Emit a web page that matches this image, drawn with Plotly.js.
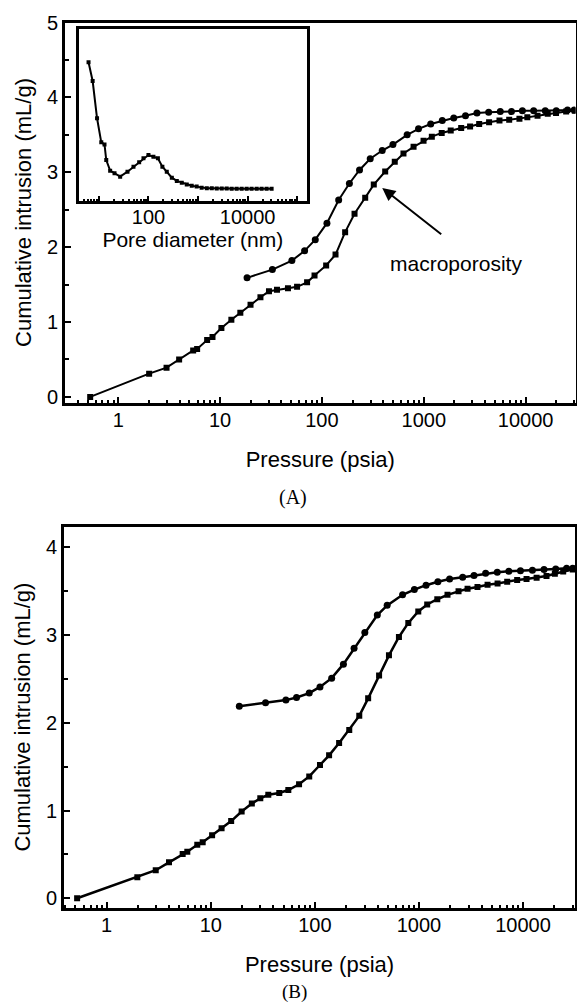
<!DOCTYPE html>
<html>
<head>
<meta charset="utf-8">
<script src="https://cdn.plot.ly/plotly-3.0.1.min.js"></script>
<style>html,body{margin:0;padding:0;background:#fff;}#chart{width:577px;height:1006px;}</style>
</head>
<body>
<div id="chart"></div>
<script>
// ---------- Panel A: cumulative intrusion vs pressure ----------
const aSqP = [0.53, 2.01, 2.98, 3.96, 5.44, 5.95, 7.46, 8.42, 10.3, 12.9, 15.8, 19.9, 24.9, 30.2, 36.2, 46.4, 57, 71.5, 84.6, 110, 136, 169, 209, 266, 323, 418, 519, 632, 794, 995, 1200, 1500, 1840, 2330, 2850, 3500, 4380, 5540, 6900, 8700, 10400, 13100, 16500, 19900, 25000, 30400];
const aSqV = [0.00, 0.31, 0.39, 0.50, 0.62, 0.64, 0.76, 0.80, 0.92, 1.03, 1.125, 1.23, 1.33, 1.41, 1.43, 1.45, 1.47, 1.53, 1.62, 1.756, 1.90, 2.20, 2.445, 2.66, 2.835, 3.01, 3.14, 3.25, 3.34, 3.42, 3.475, 3.525, 3.556, 3.59, 3.61, 3.645, 3.667, 3.69, 3.70, 3.716, 3.733, 3.756, 3.78, 3.79, 3.81, 3.823];
const aCiP = [18.4, 32.6, 50.7, 67.6, 86, 112, 146, 186, 234, 298, 391, 498, 687, 888, 1170, 1520, 1970, 2570, 3330, 4340, 5640, 7260, 9300, 12000, 15600, 20000, 25800, 30000];
const aCiV = [1.59, 1.70, 1.82, 1.95, 2.10, 2.32, 2.63, 2.85, 3.03, 3.18, 3.29, 3.37, 3.50, 3.58, 3.645, 3.69, 3.725, 3.756, 3.79, 3.80, 3.81, 3.81, 3.82, 3.823, 3.823, 3.823, 3.83, 3.83];

// ---------- Inset: pore size distribution ----------
const inD = [6.2, 7.5, 9.2, 11.2, 13, 14.1, 16.9, 20.7, 26.9, 37.8, 49.9, 65, 79.4, 100, 126, 155, 191, 234, 296, 373, 470, 592, 745, 938, 1180, 1500, 1890, 2380, 3000, 3780, 4760, 6000, 7570, 9550, 12000, 15200, 19100, 24100, 30400];
const inV = [0.806, 0.697, 0.48, 0.34, 0.328, 0.237, 0.175, 0.16, 0.14, 0.169, 0.198, 0.224, 0.247, 0.266, 0.256, 0.247, 0.198, 0.169, 0.134, 0.115, 0.105, 0.095, 0.087, 0.082, 0.076, 0.072, 0.072, 0.071, 0.071, 0.071, 0.07, 0.07, 0.07, 0.07, 0.07, 0.07, 0.07, 0.07, 0.07];

// ---------- Panel B ----------
const bSqP = [0.52, 1.97, 2.96, 3.97, 5.37, 5.95, 7.42, 8.36, 10.3, 12.7, 15.7, 19.8, 24.8, 29.9, 35.7, 45.5, 55.6, 70.5, 88.3, 112, 137, 171, 214, 267, 325, 414, 515, 642, 790, 985, 1200, 1500, 1880, 2400, 2930, 3650, 4560, 5690, 7040, 8780, 10800, 13500, 16800, 20200, 24300, 30000];
const bSqV = [0.00, 0.24, 0.32, 0.41, 0.505, 0.53, 0.61, 0.64, 0.72, 0.80, 0.88, 0.99, 1.08, 1.14, 1.18, 1.20, 1.235, 1.30, 1.39, 1.52, 1.63, 1.77, 1.92, 2.08, 2.28, 2.54, 2.77, 2.98, 3.14, 3.27, 3.35, 3.41, 3.46, 3.50, 3.53, 3.55, 3.575, 3.59, 3.61, 3.63, 3.64, 3.655, 3.675, 3.70, 3.725, 3.75];
const bCiP = [18.8, 33.6, 52.7, 66.7, 88.3, 112, 145, 188, 238, 302, 398, 495, 696, 903, 1170, 1520, 1970, 2630, 3380, 4370, 5650, 7300, 9440, 12300, 15900, 20600, 26200, 30000];
const bCiV = [2.19, 2.23, 2.26, 2.29, 2.34, 2.41, 2.51, 2.67, 2.85, 3.03, 3.23, 3.34, 3.46, 3.52, 3.57, 3.61, 3.64, 3.66, 3.68, 3.705, 3.717, 3.73, 3.735, 3.74, 3.75, 3.755, 3.763, 3.763];

// ---------- Tick labels ----------
const pTickVals = [1, 10, 100, 1000, 10000];
const pTickText = ['1', '10', '100', '1000', '10000'];
const inTickVals = [10, 100, 1000, 10000, 100000];
const inTickText = ['', '100', '', '10000', ''];
const aYTicks = [0, 1, 2, 3, 4, 5];
const bYTicks = [0, 1, 2, 3, 4];

function logMinors(lo, hi) {
  const out = [];
  for (let e = lo; e <= hi; e++) for (let m = 2; m <= 9; m++) out.push(m * Math.pow(10, e));
  return out;
}

const FONT = 'Liberation Sans, Arial, Helvetica, sans-serif';
const SERIF = 'Liberation Serif, Times New Roman, serif';
const W = 577, H = 1006;
const px = v => v / W;
const py = v => 1 - v / H;

const lineStyle = {color: '#000', width: 2};

const traces = [
  {x: aSqP, y: aSqV, xaxis: 'x', yaxis: 'y', mode: 'lines+markers', line: lineStyle,
   marker: {symbol: 'square', size: 6, color: '#000'}, showlegend: false},
  {x: aCiP, y: aCiV, xaxis: 'x', yaxis: 'y', mode: 'lines+markers', line: lineStyle,
   marker: {symbol: 'circle', size: 7, color: '#000'}, showlegend: false},
  {x: inD, y: inV, xaxis: 'x3', yaxis: 'y3', mode: 'lines+markers', line: {color: '#000', width: 2},
   marker: {symbol: 'square', size: 4, color: '#000'}, showlegend: false},
  {x: bSqP, y: bSqV, xaxis: 'x2', yaxis: 'y2', mode: 'lines+markers', line: {color: '#000', width: 2.5},
   marker: {symbol: 'square', size: 6, color: '#000'}, showlegend: false},
  {x: bCiP, y: bCiV, xaxis: 'x2', yaxis: 'y2', mode: 'lines+markers', line: {color: '#000', width: 2.5},
   marker: {symbol: 'circle', size: 7, color: '#000'}, showlegend: false}
];

const baseX = {
  type: 'log', showline: true, linewidth: 3, linecolor: '#000', mirror: true,
  ticks: 'inside', ticklen: 6, tickwidth: 2, tickcolor: '#000',
  tickmode: 'array', tickvals: pTickVals, ticktext: pTickText,
  minor: {tickmode: 'array', tickvals: logMinors(-1, 4), ticks: 'inside', ticklen: 3, tickwidth: 2, tickcolor: '#000', showgrid: false},
  showgrid: false, zeroline: false,
  tickfont: {family: FONT, size: 20, color: '#000'},
  ticklabelstandoff: -3
};
const baseY = {
  showline: true, linewidth: 3, linecolor: '#000', mirror: true,
  ticks: 'inside', ticklen: 6, tickwidth: 2, tickcolor: '#000',
  tickmode: 'array',
  minor: {dtick: 0.5, ticks: 'inside', ticklen: 4, tickwidth: 2, tickcolor: '#000', showgrid: false},
  showgrid: false, zeroline: false,
  tickfont: {family: FONT, size: 20, color: '#000'},
  ticklabelstandoff: 0
};

const layout = {
  width: W, height: H,
  margin: {l: 0, r: 0, t: 0, b: 0},
  paper_bgcolor: '#fff', plot_bgcolor: 'rgba(0,0,0,0)',
  showlegend: false,
  font: {family: FONT, color: '#000'},
  xaxis: Object.assign({}, baseX, {
    domain: [px(65), px(575.5)], anchor: 'y', range: [-0.523, 4.49],
    title: {text: 'Pressure (psia)', font: {family: FONT, size: 22, color: '#000'}, standoff: 23}
  }),
  yaxis: Object.assign({}, baseY, {
    domain: [py(402.5), py(22.5)], anchor: 'x', range: [-0.075, 5.0],
    tickvals: aYTicks,
    title: {text: 'Cumulative intrusion (mL/g)', font: {family: FONT, size: 22, color: '#000'}, standoff: 10}
  }),
  xaxis2: Object.assign({}, baseX, {
    domain: [px(64), px(575)], anchor: 'y2', range: [-0.41, 4.499],
    title: {text: 'Pressure (psia)', font: {family: FONT, size: 22, color: '#000'}, standoff: 23}
  }),
  yaxis2: Object.assign({}, baseY, {
    domain: [py(907.5), py(526.7)], anchor: 'x2', range: [-0.105, 4.237],
    tickvals: bYTicks,
    title: {text: 'Cumulative intrusion (mL/g)', font: {family: FONT, size: 22, color: '#000'}, standoff: 10}
  }),
  xaxis3: Object.assign({}, baseX, {
    domain: [px(79), px(306.7)], anchor: 'y3', range: [0.6, 5.19],
    tickvals: inTickVals, ticktext: inTickText, ticklen: 5,
    minor: {tickmode: 'array', tickvals: logMinors(0, 5), ticks: 'inside', ticklen: 2, tickwidth: 2, tickcolor: '#000', showgrid: false},
    title: {text: 'Pore diameter (nm)', font: {family: FONT, size: 21, color: '#000'}, standoff: 0},
    ticklabelstandoff: -4
  }),
  yaxis3: {
    domain: [py(200.7), py(29)], anchor: 'x3', range: [0, 1],
    showline: true, linewidth: 3, linecolor: '#000', mirror: true,
    ticks: '', showticklabels: false, showgrid: false, zeroline: false
  },
  annotations: [
    {xref: 'x', yref: 'y', x: Math.log10(391), y: 2.79, axref: 'x', ayref: 'y',
     ax: Math.log10(1535), ay: 2.156, text: '', showarrow: true,
     arrowhead: 2, arrowsize: 1.3, arrowwidth: 2, arrowcolor: '#000'},
    {xref: 'x', yref: 'y', x: Math.log10(2080), y: 1.78, text: 'macroporosity', showarrow: false,
     font: {family: FONT, size: 21, color: '#000'}},
    {xref: 'paper', yref: 'paper', x: px(293), y: py(497), xanchor: 'center', yanchor: 'middle',
     text: '(A)', showarrow: false, font: {family: SERIF, size: 20, color: '#000'}},
    {xref: 'paper', yref: 'paper', x: px(294), y: py(992), xanchor: 'center', yanchor: 'middle',
     text: '(B)', showarrow: false, font: {family: SERIF, size: 19, color: '#000'}}
  ]
};

Plotly.newPlot('chart', traces, layout, {staticPlot: true, displayModeBar: false});
</script>
</body>
</html>
